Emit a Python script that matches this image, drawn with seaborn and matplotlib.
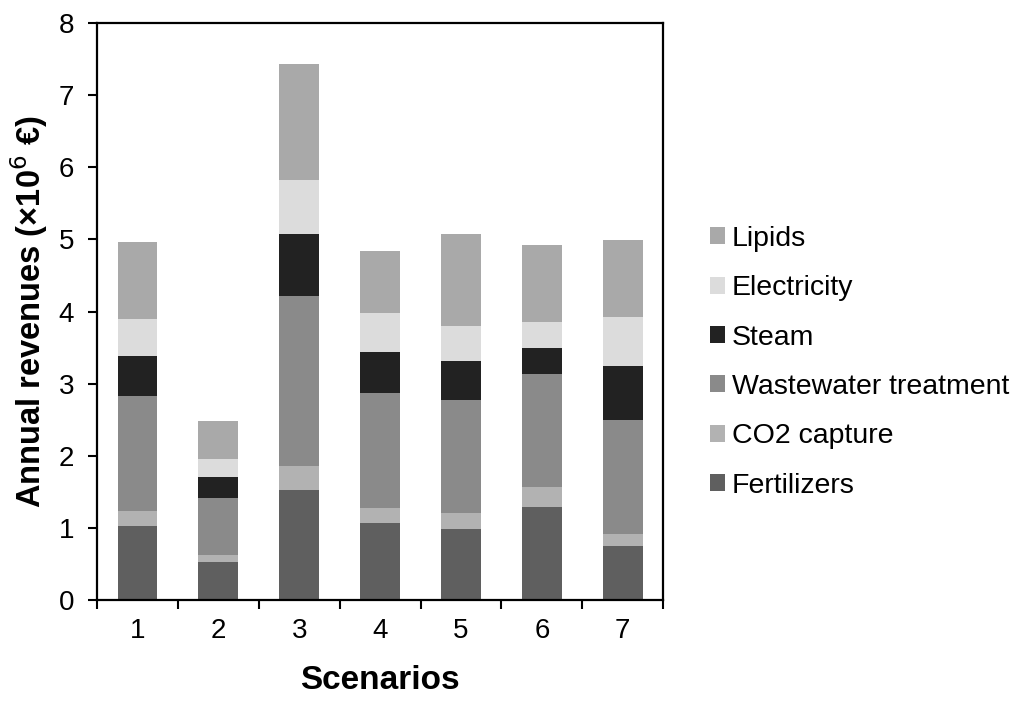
import matplotlib
matplotlib.use("Agg")
import matplotlib.pyplot as plt
import seaborn as sns
import numpy as np
from matplotlib.patches import Patch

scenarios = ["1", "2", "3", "4", "5", "6", "7"]
fertilizers = [1.03, 0.52, 1.53, 1.06, 0.98, 1.29, 0.75]
co2_capture = [0.20, 0.10, 0.33, 0.21, 0.22, 0.27, 0.17]
wastewater = [1.60, 0.79, 2.36, 1.60, 1.57, 1.57, 1.58]
steam = [0.55, 0.29, 0.86, 0.57, 0.54, 0.37, 0.75]
electricity = [0.51, 0.25, 0.75, 0.54, 0.49, 0.36, 0.68]
lipids = [1.07, 0.53, 1.60, 0.86, 1.27, 1.06, 1.06]

series_names = ["Fertilizers", "CO2 capture", "Wastewater treatment", "Steam", "Electricity", "Lipids"]
series_vals = [fertilizers, co2_capture, wastewater, steam, electricity, lipids]
colors = ["#5f5f5f", "#b2b2b2", "#8a8a8a", "#222222", "#dcdcdc", "#a9a9a9"]

sns.set_style("white")
plt.rcParams['font.family'] = ['Liberation Sans', 'DejaVu Sans']
plt.rcParams['text.color'] = 'black'
plt.rcParams['axes.labelcolor'] = 'black'
plt.rcParams['xtick.color'] = 'black'
plt.rcParams['ytick.color'] = 'black'

fig = plt.figure(figsize=(10.24, 7.04), dpi=100)
ax = fig.add_axes([0.0947, 0.148, 0.553, 0.819])

bottom = np.zeros(len(scenarios))
for name, vals, c in zip(series_names, series_vals, colors):
    sns.barplot(x=scenarios, y=vals, bottom=bottom, color=c, width=0.49,
                ax=ax, saturation=1, linewidth=0, errorbar=None)
    bottom = bottom + np.array(vals)

ax.set_ylim(0, 8)
ax.set_xlim(-0.5, 6.5)
ax.set_yticks(range(0, 9))
ax.set_xticks(range(7))
ax.set_xticklabels(scenarios)
ax.set_xticks(np.arange(-0.5, 7.0, 1.0), minor=True)
ax.tick_params(axis="x", which="major", length=0, labelsize=20, pad=13)
ax.tick_params(axis="x", which="minor", length=6.5, width=1.5, direction="out", bottom=True)
ax.tick_params(axis="y", which="major", length=6.5, width=1.5, direction="out", left=True, labelsize=20, pad=10)

for s in ax.spines.values():
    s.set_visible(True)
    s.set_linewidth(1.6)
    s.set_color("black")

ax.set_xlabel("Scenarios", fontsize=24, fontweight="bold", labelpad=15)
ax.set_ylabel("Annual revenues (×10$^{6}$ €)", fontsize=23.5, fontweight="bold", labelpad=6)

handles = [Patch(facecolor=c, edgecolor="none", label=n) for n, c in zip(series_names, colors)][::-1]
ax.legend(handles=handles, loc="center left", bbox_to_anchor=(1.062, 0.412), frameon=False,
          fontsize=20.5, handlelength=0.53, handleheight=0.53, handletextpad=0.25, labelspacing=0.82,
          borderaxespad=0, labelcolor="black")

fig.savefig("out.png", dpi=100, facecolor="white")
